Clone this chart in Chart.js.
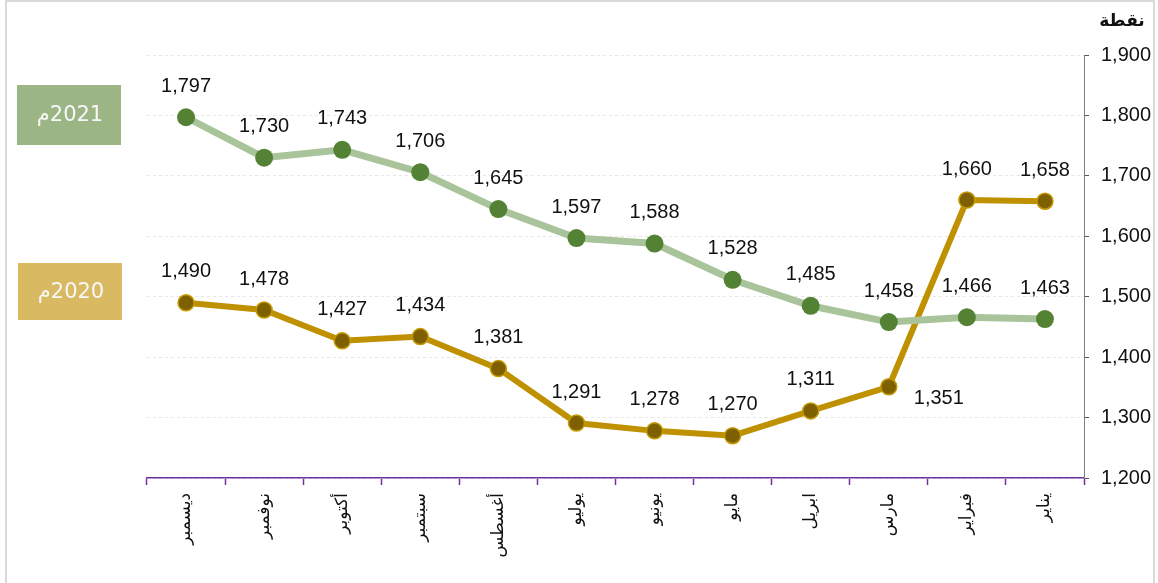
<!DOCTYPE html>
<html>
<head>
<meta charset="utf-8">
<script src="https://cdn.jsdelivr.net/npm/chart.js@4"></script>
<style>
    html, body { margin: 0; padding: 0; background: #fff; overflow: hidden; }
    #frame { position: absolute; left: 5px; top: 0; width: 1150px; height: 600px; border: 2px solid #d9d9d9; box-sizing: border-box; }
    #wrap { position: absolute; left: 0; top: 0; width: 1158px; height: 583px; }
</style>
</head>
<body>
<div id="frame"></div>
<div id="wrap"><canvas id="chartCanvasId"></canvas></div>
<script>
"use strict";

const months = ["يناير", "فبراير", "مارس", "ابريل", "مايو", "يونيو", "يوليو", "أغسطس", "سبتمبر", "أكتوبر", "نوفمبر", "ديسمبر"];
const values2021 = [1463, 1466, 1458, 1485, 1528, 1588, 1597, 1645, 1706, 1743, 1730, 1797];
const values2020 = [1658, 1660, 1351, 1311, 1270, 1278, 1291, 1381, 1434, 1427, 1478, 1490];
const seriesNames = ["2021م", "2020م"];
const yTitle = "نقطة";

const boxColors = ["#9bb584", "#d9ba63"];
const boxRects = [[17, 85, 104, 60], [18, 263, 104, 57]];

const fmt = v => v.toLocaleString("en-US");

const extrasPlugin = {
    id: "extras",
    afterDatasetsDraw(chart) {
        const ctx = chart.ctx;
        ctx.save();
        ctx.font = "20px 'Liberation Sans', Arial, sans-serif";
        ctx.fillStyle = "#111";
        ctx.textAlign = "center";
        ctx.textBaseline = "middle";
        chart.data.datasets.forEach((ds, di) => {
            chart.getDatasetMeta(di).data.forEach((pt, i) => {
                let x = pt.x;
                let y = pt.y - 31;
                if (di === 1 && i === 2) {
                    x = pt.x + 50;
                    y = pt.y + 12;
                }
                ctx.fillText(fmt(ds.data[i]), x, y);
            });
        });

        // series boxes on the left
        ctx.direction = "rtl";
        ctx.font = "21px 'DejaVu Sans', sans-serif";
        boxRects.forEach((r, i) => {
            ctx.fillStyle = boxColors[i];
            ctx.fillRect(r[0], r[1], r[2], r[3]);
            ctx.fillStyle = "#f7f7f7";
            ctx.textAlign = "center";
            ctx.fillText(seriesNames[i], r[0] + r[2] / 2 + 1, r[1] + r[3] / 2 + 1);
        });

        // axis unit label
        ctx.fillStyle = "#111";
        ctx.font = "bold 17px 'DejaVu Sans', sans-serif";
        ctx.fillText(yTitle, 1122, 22);
        ctx.restore();
    },
};

const chartCanvas = document.getElementById("chartCanvasId");
const myChart = new Chart(chartCanvas.getContext("2d"), {
    type: "line",
    data: {
        labels: months,
        datasets: [
            {
                label: seriesNames[0],
                data: values2021,
                borderColor: "#a9c49b",
                borderWidth: 7,
                pointRadius: 9,
                pointHoverRadius: 9,
                pointBackgroundColor: "#548235",
                pointBorderColor: "#548235",
                pointBorderWidth: 0,
                tension: 0,
            },
            {
                label: seriesNames[1],
                data: values2020,
                borderColor: "#bf9000",
                borderWidth: 6,
                pointRadius: 8,
                pointHoverRadius: 8,
                pointBackgroundColor: "#7f6000",
                pointBorderColor: "#c49a00",
                pointBorderWidth: 1.5,
                tension: 0,
            },
        ],
    },
    options: {
        responsive: false,
        animation: false,
        layout: { padding: { left: 147, top: 55, right: 6, bottom: 0 } },
        plugins: {
            legend: { display: false },
            tooltip: { enabled: false },
        },
        scales: {
            x: {
                reverse: true,
                offset: true,
                grid: {
                    offset: true,
                    drawOnChartArea: false,
                    tickLength: 7,
                    tickColor: "#7030a0",
                    tickWidth: 1.5,
                },
                border: { color: "#7030a0", width: 1.5 },
                ticks: {
                    color: "#111",
                    font: { family: "'DejaVu Sans', sans-serif", size: 17 },
                    minRotation: 90,
                    maxRotation: 90,
                    padding: 8,
                },
                afterFit(scale) { scale.height = 101; },
            },
            y: {
                position: "right",
                min: 1200,
                max: 1900,
                ticks: {
                    stepSize: 100,
                    color: "#111",
                    font: { family: "'Liberation Sans', Arial, sans-serif", size: 20 },
                    padding: 12,
                    callback: v => fmt(v),
                },
                grid: {
                    color: "#e6e6e6",
                    tickColor: "#595959",
                    tickLength: 5,
                    tickBorderDash: [],
                },
                border: { color: "#7f7f7f", width: 1, dash: [3, 3] },
                afterFit(scale) { scale.width = 68; },
            },
        },
    },
    plugins: [extrasPlugin],
});
chartCanvas.width = 1158;
chartCanvas.height = 583;
myChart.resize(1158, 583);
</script>
</body>
</html>
